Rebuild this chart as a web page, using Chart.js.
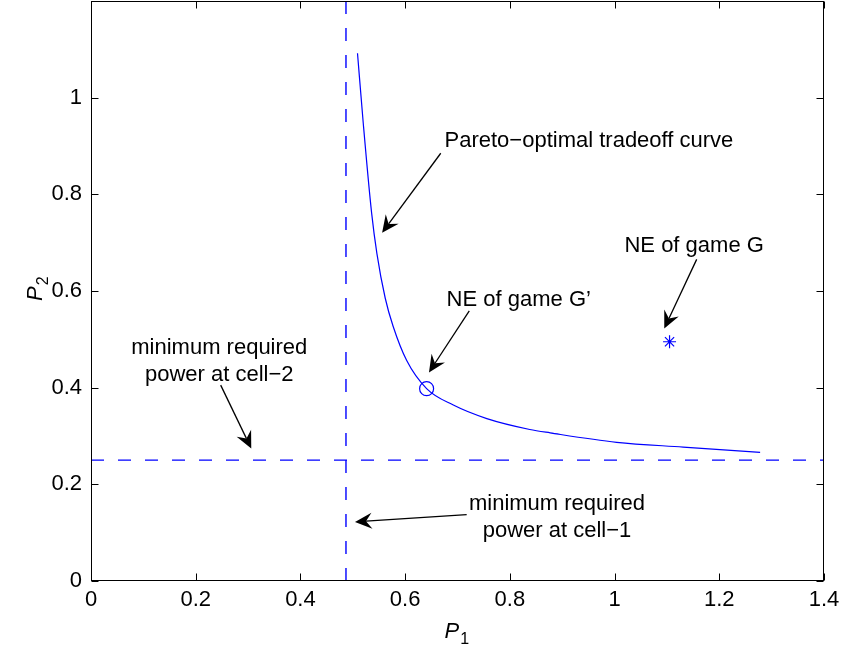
<!DOCTYPE html>
<html><head><meta charset="utf-8">
<script src="https://cdn.jsdelivr.net/npm/chart.js@4"></script>
<style>html,body{margin:0;padding:0;background:#fff}canvas{display:block}</style>
</head><body>
<canvas id="c" width="843" height="649"></canvas>
<script>
// Pareto-optimal tradeoff curve
const curveP1 = [0.509,0.520,0.536,0.546,0.562,0.577,0.603,0.641,0.692,0.756,0.838,0.877,1.004,1.131,1.278];
const curveP2 = [1.092,0.947,0.761,0.678,0.585,0.527,0.456,0.398,0.364,0.336,0.3135,0.3065,0.287,0.277,0.266];
// minimum required powers
const minP1 = 0.487;
const minP2 = 0.25;
// Nash equilibria
const neGprime = [0.641, 0.398];
const neG = [1.105, 0.495];
// axis ticks
const xTicks = [0,0.2,0.4,0.6,0.8,1,1.2,1.4];
const yTicks = [0,0.2,0.4,0.6,0.8,1];
// annotation texts
const annTexts = [
  ["Pareto\u2212optimal tradeoff curve"],
  ["NE of game G\u2019"],
  ["NE of game G"],
  ["minimum required","power at cell\u22122"],
  ["minimum required","power at cell\u22121"]
];
// annotation anchor positions (data units)
const annTextX = [0.951, 0.817, 1.152, 0.245, 0.890];
const annTextY = [0.910, 0.581, 0.693, 0.482, 0.160];
const annArrowFrom = [[0.668,0.885],[0.7225,0.559],[1.1568,0.6654],[0.2477,0.4052],[0.7175,0.1375]];
const annArrowTo   = [[0.556,0.7205],[0.6455,0.4315],[1.0949,0.5226],[0.3061,0.2741],[0.5042,0.1222]];

const BLUE = '#0000ff';
const FONT = '"Liberation Sans", Arial, Helvetica, sans-serif';
const FS = 22;
const PLOT_TOP = 1;

const frame = {
  id: 'frame',
  afterLayout(chart) {
    const ys = chart.scales.y;
    ys.top = PLOT_TOP;
    ys.height = ys.bottom - ys.top;
    ys.configure();
    chart.chartArea.top = PLOT_TOP;
    chart.chartArea.height = chart.chartArea.bottom - PLOT_TOP;
  },
  afterDatasetsDraw(chart) {
    const ctx = chart.ctx, a = chart.chartArea;
    const xs = chart.scales.x, ys = chart.scales.y;
    ctx.save();
    ctx.strokeStyle = '#000'; ctx.lineWidth = 1;
    const L = Math.round(a.left)+0.5, R = Math.round(a.right)-0.5, T = Math.round(a.top)+0.5, B = Math.round(a.bottom)-0.5;
    ctx.strokeRect(L, T, R-L, B-T);
    const tl = 7;
    ctx.beginPath();
    xTicks.forEach(v => {
      const px = Math.round(xs.getPixelForValue(v))+0.5;
      ctx.moveTo(px, B); ctx.lineTo(px, B-tl);
      ctx.moveTo(px, T); ctx.lineTo(px, T+tl);
    });
    yTicks.forEach(v => {
      const py = Math.round(ys.getPixelForValue(v))+0.5;
      ctx.moveTo(L, py); ctx.lineTo(L+tl, py);
      ctx.moveTo(R, py); ctx.lineTo(R-tl, py);
    });
    ctx.stroke();
    ctx.restore();
  },
  afterDraw(chart) {
    const ctx = chart.ctx, a = chart.chartArea;
    const xs = chart.scales.x, ys = chart.scales.y;
    ctx.save();
    ctx.fillStyle = '#000'; ctx.strokeStyle = '#000';
    ctx.font = FS + 'px ' + FONT;
    ctx.textAlign = 'center'; ctx.textBaseline = 'middle';
    annTexts.forEach((lines, i) => {
      const cx = xs.getPixelForValue(annTextX[i]);
      const cy = ys.getPixelForValue(annTextY[i]);
      lines.forEach((t, k) => ctx.fillText(t, cx, cy + k*27));
      const x0 = xs.getPixelForValue(annArrowFrom[i][0]), y0 = ys.getPixelForValue(annArrowFrom[i][1]);
      const x1 = xs.getPixelForValue(annArrowTo[i][0]), y1 = ys.getPixelForValue(annArrowTo[i][1]);
      const ang = Math.atan2(y1-y0, x1-x0);
      const hl = 17, hw = 8, notch = 11;
      const ux = Math.cos(ang), uy = Math.sin(ang), nx = -uy, ny = ux;
      ctx.lineWidth = 1.3;
      ctx.beginPath();
      ctx.moveTo(x0, y0);
      ctx.lineTo(x1 - ux*notch, y1 - uy*notch);
      ctx.stroke();
      ctx.beginPath();
      ctx.moveTo(x1, y1);
      ctx.lineTo(x1 - ux*hl + nx*hw, y1 - uy*hl + ny*hw);
      ctx.lineTo(x1 - ux*notch, y1 - uy*notch);
      ctx.lineTo(x1 - ux*hl - nx*hw, y1 - uy*hl - ny*hw);
      ctx.closePath();
      ctx.fill();
    });
    // axis titles: P_1 and P_2
    const cxT = (a.left + a.right)/2 - 4;
    ctx.textAlign = 'left'; ctx.textBaseline = 'alphabetic';
    ctx.font = 'italic ' + FS + 'px ' + FONT;
    const wP = ctx.measureText('P').width;
    ctx.fillText('P', cxT - 9, 638);
    ctx.font = '16px ' + FONT;
    ctx.fillText('1', cxT - 9 + wP + 1, 644);
    ctx.save();
    const cyT = (a.top + a.bottom)/2;
    ctx.translate(42, cyT);
    ctx.rotate(-Math.PI/2);
    ctx.font = 'italic ' + FS + 'px ' + FONT;
    ctx.fillText('P', -10, 0);
    ctx.font = '16px ' + FONT;
    ctx.fillText('2', -10 + wP + 1, 6);
    ctx.restore();
    ctx.restore();
  }
};

const chart = new Chart(document.getElementById('c'), {
  type: 'scatter',
  data: {
    datasets: [
      { data: curveP1.map((x,i)=>({x, y: curveP2[i]})), showLine: true, pointRadius: 0,
        borderColor: BLUE, borderWidth: 1.2, cubicInterpolationMode: 'monotone', fill: false },
      { data: [{x:minP1,y:0},{x:minP1,y:1.2}], showLine: true, pointRadius: 0,
        borderColor: BLUE, borderWidth: 1.4, borderDash: [13,14] },
      { data: [{x:0,y:minP2},{x:1.4,y:minP2}], showLine: true, pointRadius: 0,
        borderColor: BLUE, borderWidth: 1.4, borderDash: [13,14] },
      { data: [{x:neGprime[0], y:neGprime[1]}], pointStyle: 'circle', pointRadius: 7,
        borderColor: BLUE, backgroundColor: 'rgba(0,0,0,0)', borderWidth: 1.2 },
      { data: [{x:neG[0], y:neG[1]}], pointStyle: 'star', pointRadius: 6.5,
        borderColor: BLUE, backgroundColor: BLUE, borderWidth: 1.2 }
    ]
  },
  options: {
    responsive: false, animation: false, devicePixelRatio: 1,
    layout: { padding: { left: 0, top: 1, right: 19, bottom: 0 } },
    plugins: { legend: { display: false }, tooltip: { enabled: false } },
    scales: {
      x: {
        type: 'linear', min: 0, max: 1.4,
        afterBuildTicks: s => { s.ticks = xTicks.map(v => ({value: v})); },
        ticks: { color: '#000', font: { size: FS, family: FONT }, padding: 6, maxRotation: 0,
                 callback: v => String(Math.round(v*10)/10) },
        grid: { display: false, drawTicks: false }, border: { display: false },
        afterFit: s => { s.height = 68; s.paddingLeft = 0; s.paddingRight = 0; }
      },
      y: {
        type: 'linear', min: 0, max: 1.2,
        afterBuildTicks: s => { s.ticks = yTicks.map(v => ({value: v})); },
        ticks: { color: '#000', font: { size: FS, family: FONT }, padding: 9,
                 callback: v => String(Math.round(v*10)/10) },
        grid: { display: false, drawTicks: false }, border: { display: false },
        afterFit: s => { s.width = 91; s.paddingTop = 0; s.paddingBottom = 0; }
      }
    }
  },
  plugins: [frame]
});
</script>
</body></html>
